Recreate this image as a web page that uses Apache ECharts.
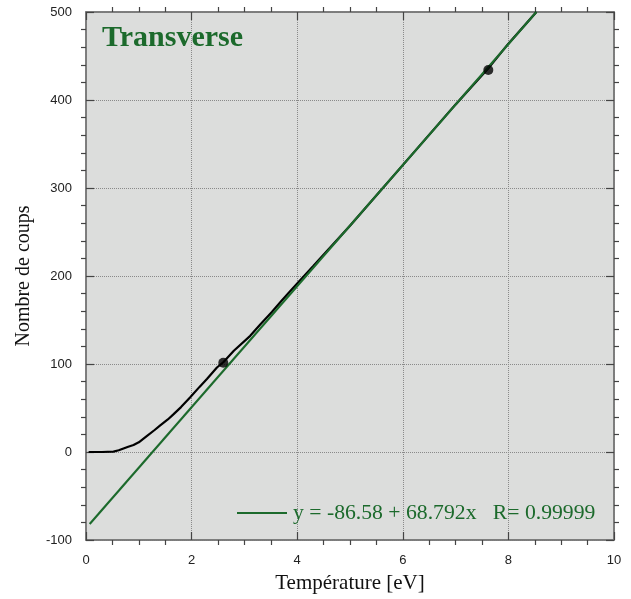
<!DOCTYPE html>
<html>
<head>
<meta charset="utf-8">
<script src="https://cdn.jsdelivr.net/npm/echarts@6/dist/echarts.min.js"></script>
<style>html,body{margin:0;padding:0;background:#fff;}#c{width:631px;height:599px;}</style>
</head>
<body>
<div id="c"></div>
<script>
// Data
const curveTemp   = [0.05, 0.3, 0.52, 0.62, 0.71, 0.8, 0.9, 1.0, 1.15, 1.3, 1.4, 1.55, 1.66, 1.8, 1.97, 2.15, 2.29, 2.48, 2.6, 2.8, 3.11, 3.3, 3.52, 3.7, 3.87, 4.0, 4.3, 5.0, 6.0, 7.0, 7.62, 8.0, 8.53];
const curveCounts = [0, 0, 0.5, 2, 4, 6, 8, 11, 18, 25, 30, 37, 43, 51, 62, 74, 83, 96, 102, 115, 132, 145, 159, 171.5, 183, 191.5, 211, 257, 326, 395, 436, 464, 500];
const fitTemp     = [0.07, 8.53];
const fitCounts   = [-81.8, 500];
const markerTemp   = [2.6, 7.62];
const markerCounts = [101.5, 434];
const titleText = 'Transverse';
const fitLabel = 'y = -86.58 + 68.792x   R= 0.99999';
const xName = 'Température [eV]';
const yName = 'Nombre de coups';

const GREEN = '#1c6a2c';
const zip = (a, b) => a.map((v, i) => [v, b[i]]);

const labelFont = {fontFamily: 'Liberation Sans', fontSize: 13, color: '#222'};
const serif = 'Liberation Serif';

function mainAxis(pos, isX, showLabels) {
  const base = {
    type: 'value', position: pos,
    min: isX ? 0 : -100, max: isX ? 10 : 500, interval: isX ? 2 : 100,
    axisLine: {show: true, onZero: false, lineStyle: {color: '#777', width: 1.5}},
    axisTick: {show: true, inside: true, length: 8, lineStyle: {color: '#444', width: 1.2}},
    axisLabel: Object.assign({show: showLabels, margin: 14}, labelFont),
    splitLine: {show: showLabels, lineStyle: {color: '#8a8a8a', width: 1, type: [1, 1]}},
    minorTick: {show: false}
  };
  if (showLabels) {
    base.name = isX ? xName : yName;
    base.nameLocation = 'middle';
    base.nameGap = isX ? 33 : 52;
    base.nameTextStyle = {fontFamily: serif, fontSize: isX ? 21 : 20, color: '#111'};
  }
  return base;
}
function minorAxis(pos, isX) {
  return {
    type: 'value', position: pos,
    min: isX ? 0 : -100, max: isX ? 10 : 500, interval: isX ? 2 : 100,
    axisLine: {show: false, onZero: false},
    axisTick: {show: false, inside: false},
    axisLabel: {show: false},
    splitLine: {show: false},
    minorTick: {show: true, splitNumber: isX ? 4 : 5, length: 5, lineStyle: {color: '#444', width: 1.2}},
    minorSplitLine: {show: false}
  };
}

const chart = echarts.init(document.getElementById('c'));
chart.setOption({
  animation: false,
  backgroundColor: '#fff',
  title: {
    text: titleText, left: 102, top: 23, padding: 0,
    textStyle: {fontFamily: serif, fontWeight: 'bold', fontSize: 30, color: GREEN}
  },
  legend: {
    left: 237, top: 502, padding: 0, itemGap: 0,
    itemWidth: 50, itemHeight: 2,
    data: [{name: fitLabel, icon: 'rect', itemStyle: {color: GREEN}}],
    textStyle: {fontFamily: serif, fontSize: 21.7, color: GREEN, padding: [0, 0, 0, 1]}
  },
  grid: {
    left: 86, right: 17, top: 12, bottom: 58,
    show: true, backgroundColor: '#dcdddc', borderColor: '#777', borderWidth: 1.5
  },
  xAxis: [mainAxis('bottom', true, true), minorAxis('bottom', true), mainAxis('top', true, false), minorAxis('top', true)],
  yAxis: [mainAxis('left', false, true), minorAxis('left', false), mainAxis('right', false, false), minorAxis('right', false)],
  series: [
    {
      name: 'curve', type: 'line', xAxisIndex: 0, yAxisIndex: 0,
      data: zip(curveTemp, curveCounts), showSymbol: false,
      lineStyle: {color: '#000', width: 2.2}, z: 2
    },
    {
      name: fitLabel, type: 'line', xAxisIndex: 0, yAxisIndex: 0,
      data: zip(fitTemp, fitCounts), showSymbol: false,
      lineStyle: {color: GREEN, width: 2.1}, itemStyle: {color: GREEN}, z: 3
    },
    {
      name: 'points', type: 'scatter', xAxisIndex: 0, yAxisIndex: 0,
      data: zip(markerTemp, markerCounts), symbolSize: 10,
      itemStyle: {color: '#000'}, z: 4
    }
  ]
});
</script>
</body>
</html>
